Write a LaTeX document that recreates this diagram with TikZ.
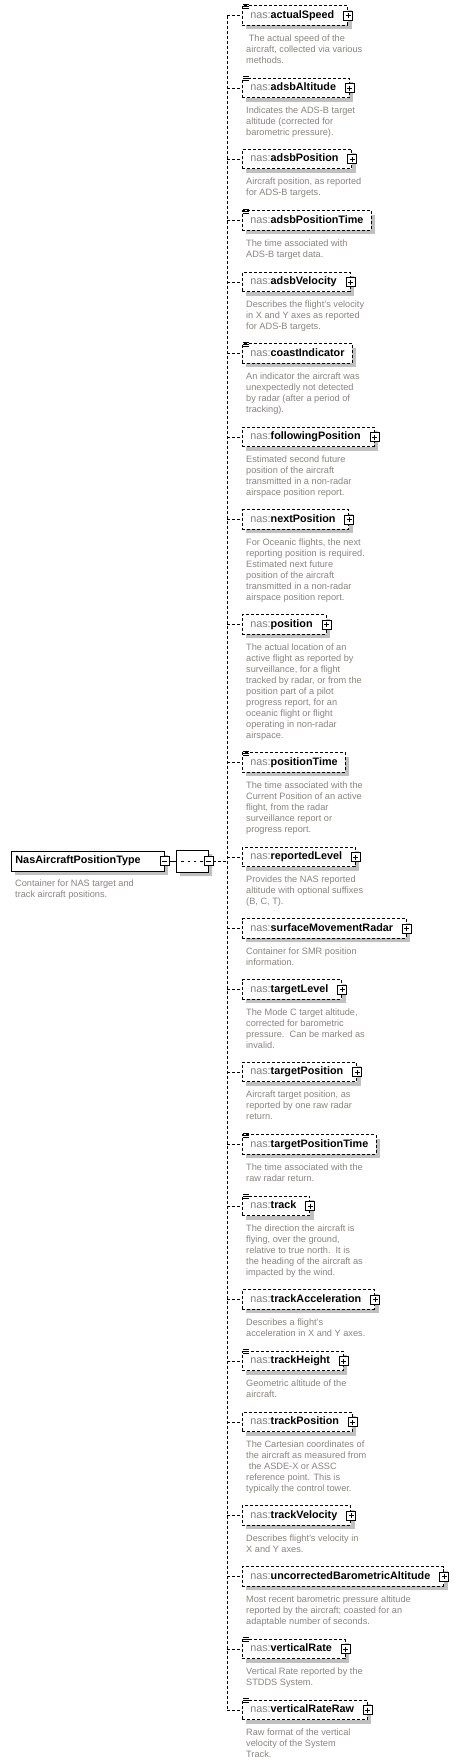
\documentclass[tikz,border=0pt]{standalone}
\usepackage{fontspec}
\setmainfont{Liberation Sans}
\usetikzlibrary{shadows,calc,shapes.misc}
\definecolor{nasgray}{RGB}{128,128,128}
\definecolor{descgray}{RGB}{136,132,126}
\definecolor{shadowgray}{RGB}{192,192,192}
\tikzset{
  dsh/.style={dash pattern=on 3pt off 2pt},
  shad/.style={drop shadow={shadow xshift=4pt, shadow yshift=-4pt, fill=shadowgray, opacity=1}},
  elem/.style={draw, dsh, line width=0.9pt, fill=white, anchor=west, minimum height=19.5pt,
    inner xsep=7.8pt, inner ysep=0pt, text height=8pt, text depth=2.4pt,
    font=\fontsize{10.8}{12}\selectfont, shad},
  rootbox/.style={draw, solid, line width=0.9pt, fill=white, anchor=west, minimum height=20pt,
    inner xsep=4pt, inner ysep=0pt, text width=145pt, align=left, text height=8pt, text depth=2.4pt,
    font=\fontsize{10.8}{12}\selectfont\bfseries, shad},
  desc/.style={anchor=north west, inner sep=0pt, align=left, text=descgray,
    font=\fontsize{9.2}{11}\selectfont},
  conn/.style={draw, dsh, line width=0.9pt},
  plusicon/.style={draw, solid, line width=0.8pt, fill=white, minimum size=9pt, inner sep=0pt,
    path picture={
      \draw[line width=0.8pt] ($(path picture bounding box.west)+(2,0)$) -- ($(path picture bounding box.east)+(-2,0)$);
      \draw[line width=0.8pt] ($(path picture bounding box.north)+(0,2)$) -- ($(path picture bounding box.south)+(0,-2)$);}},
  minusicon/.style={draw, solid, line width=0.8pt, fill=white, minimum size=9pt, inner sep=0pt,
    path picture={
      \draw[line width=0.8pt] ($(path picture bounding box.west)+(2,0)$) -- ($(path picture bounding box.east)+(-2,0)$);}},
  seqbox/.style={chamfered rectangle, chamfered rectangle xsep=5pt, chamfered rectangle ysep=5pt,
    draw, solid, line width=0.9pt, fill=white, minimum width=32pt, minimum height=22pt, inner sep=0pt, shad,
    path picture={
      \draw[line width=0.9pt] ($(path picture bounding box.west)+(5,0)$) -- ($(path picture bounding box.east)+(-5,0)$);
      \foreach \dx in {-6,0,6}{\fill ($(path picture bounding box.center)+(\dx,0)$) +(-1.6,-1.6) rectangle +(1.6,1.6);}}},
  docline/.style={draw, solid, line width=0.8pt}
}
\newcommand\elnode[4]{%
  \node[elem] (#1) at (242,#2) {\textcolor{nasgray}{nas:}\textbf{#1}\ifnum#3=1 \hspace*{5.5pt}\fi};
  \ifnum#3=1 \node[plusicon] (#1-plus) at (#1.east) {};\fi
  \ifnum#4=1 \draw[docline] ($(#1.north west)+(1,-1)$) -- ++(6,0)
     ($(#1.north west)+(1,1)$) -- ++(6,0) ($(#1.north west)+(1,3)$) -- ++(6,0);\fi
}
\newcommand\eldesc[2]{%
  \node[desc] (#1-doc) at ($(#1.south west)+(4,7.25)$) {\rule{0pt}{8pt}#2};
}
\begin{document}
\begin{tikzpicture}[x=1pt,y=-1pt]
\useasboundingbox (0,0) rectangle (457,1764);
\coordinate (spine) at (227,0);

% root
\node[rootbox] (root) at (11,861) {NasAircraftPositionType};
\node[minusicon] (root-minus) at (root.east) {};
\eldesc{root}{Container for NAS target and\\track aircraft positions.}

% sequence compositor
\node[seqbox] (seq) at (192,861) {};
\draw[solid, line width=0.9pt] (root-minus.east) -- (seq.west);
\node[minusicon] (seq-minus) at (seq.east) {};

% children
\elnode{actualSpeed}{15.5}{1}{1}
\eldesc{actualSpeed}{\hspace*{2.6pt}The actual speed of the\\aircraft, collected via various\\methods.}
\elnode{adsbAltitude}{88}{1}{1}
\eldesc{adsbAltitude}{Indicates the ADS-B target\\altitude (corrected for\\barometric pressure).}
\elnode{adsbPosition}{159}{1}{0}
\eldesc{adsbPosition}{Aircraft position, as reported\\for ADS-B targets.}
\elnode{adsbPositionTime}{220.5}{0}{1}
\eldesc{adsbPositionTime}{The time associated with\\ADS-B target data.}
\elnode{adsbVelocity}{282}{1}{0}
\eldesc{adsbVelocity}{Describes the flight's velocity\\in X and Y axes as reported\\for ADS-B targets.}
\elnode{coastIndicator}{353.5}{0}{1}
\eldesc{coastIndicator}{An indicator the aircraft was\\unexpectedly not detected\\by radar (after a period of\\tracking).}
\elnode{followingPosition}{437}{1}{0}
\eldesc{followingPosition}{Estimated second future\\position of the aircraft\\transmitted in a non-radar\\airspace position report.}
\elnode{nextPosition}{519.5}{1}{0}
\eldesc{nextPosition}{For Oceanic flights, the next\\reporting position is required.\\Estimated next future\\position of the aircraft\\transmitted in a non-radar\\airspace position report.}
\elnode{position}{624.5}{1}{0}
\eldesc{position}{The actual location of an\\active flight as reported by\\surveillance, for a flight\\tracked by radar, or from the\\position part of a pilot\\progress report, for an\\oceanic flight or flight\\operating in non-radar\\airspace.}
\elnode{positionTime}{762.5}{0}{1}
\eldesc{positionTime}{The time associated with the\\Current Position of an active\\flight, from the radar\\surveillance report or\\progress report.}
\elnode{reportedLevel}{857}{1}{0}
\eldesc{reportedLevel}{Provides the NAS reported\\altitude with optional suffixes\\(B, C, T).}
\elnode{surfaceMovementRadar}{928.5}{1}{0}
\eldesc{surfaceMovementRadar}{Container for SMR position\\information.}
\elnode{targetLevel}{989.5}{1}{0}
\eldesc{targetLevel}{The Mode C target altitude,\\corrected for barometric\\pressure.\ \ Can be marked as\\invalid.}
\elnode{targetPosition}{1072}{1}{0}
\eldesc{targetPosition}{Aircraft target position, as\\reported by one raw radar\\return.}
\elnode{targetPositionTime}{1144.5}{0}{1}
\eldesc{targetPositionTime}{The time associated with the\\raw radar return.}
\elnode{track}{1206}{1}{1}
\eldesc{track}{The direction the aircraft is\\flying, over the ground,\\relative to true north.\ \ It is\\the heading of the aircraft as\\impacted by the wind.}
\elnode{trackAcceleration}{1299.5}{1}{0}
\eldesc{trackAcceleration}{Describes a flight's\\acceleration in X and Y axes.}
\elnode{trackHeight}{1361}{1}{1}
\eldesc{trackHeight}{Geometric altitude of the\\aircraft.}
\elnode{trackPosition}{1422}{1}{0}
\eldesc{trackPosition}{The Cartesian coordinates of\\the aircraft as measured from\\\hspace*{2.6pt}the ASDE-X or ASSC\\reference point. This is\\typically the control tower.}
\elnode{trackVelocity}{1515.5}{1}{0}
\eldesc{trackVelocity}{Describes flight's velocity in\\X and Y axes.}
\elnode{uncorrectedBarometricAltitude}{1576.5}{1}{0}
\eldesc{uncorrectedBarometricAltitude}{Most recent barometric pressure altitude\\reported by the aircraft; coasted for an\\adaptable number of seconds.}
\elnode{verticalRate}{1649}{1}{1}
\eldesc{verticalRate}{Vertical Rate reported by the\\STDDS System.}
\elnode{verticalRateRaw}{1710}{1}{1}
\eldesc{verticalRateRaw}{Raw format of the vertical\\velocity of the System\\Track.}

% connectors
\draw[conn] (seq-minus.east) -- (seq-minus.east -| spine);
\draw[conn] (actualSpeed.west -| spine) -- (verticalRateRaw.west -| spine);
\foreach \n in {actualSpeed,adsbAltitude,adsbPosition,adsbPositionTime,adsbVelocity,coastIndicator,
  followingPosition,nextPosition,position,positionTime,reportedLevel,surfaceMovementRadar,targetLevel,
  targetPosition,targetPositionTime,track,trackAcceleration,trackHeight,trackPosition,trackVelocity,
  uncorrectedBarometricAltitude,verticalRate,verticalRateRaw}{
  \draw[conn] (\n.west -| spine) -- (\n.west);
}
\end{tikzpicture}
\end{document}
